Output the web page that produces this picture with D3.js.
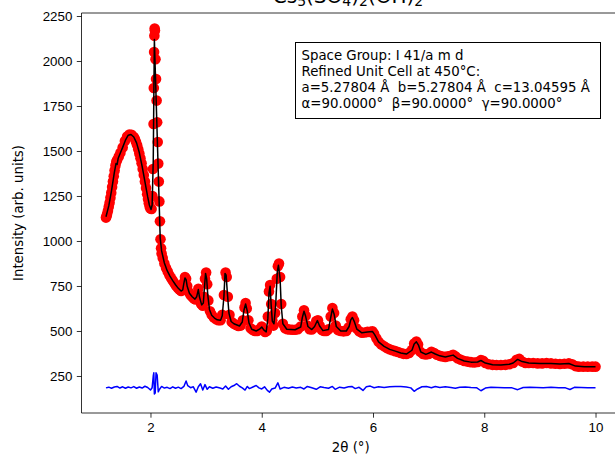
<!DOCTYPE html>
<html>
<head>
<meta charset="utf-8">
<script src="https://cdn.jsdelivr.net/npm/d3@7"></script>
<style>
  body { margin: 0; background: #fff; }
  svg { display: block; font-family: "DejaVu Sans", sans-serif; }
  .tick text { font-size: 13.33px; fill: #000; }
  .tick line { stroke: #000; stroke-width: 0.8; }
  .domain { stroke: none; }
</style>
</head>
<body>
<svg id="chart" width="615" height="459"></svg>
<script>
// observed pattern, [2theta, intensity]
var obsData = [
  [1.20,1130],[1.21,1138],[1.22,1150],[1.235,1168],[1.25,1190],[1.265,1213],[1.28,1240],[1.295,1268],
  [1.31,1300],[1.325,1330],[1.34,1360],[1.355,1392],[1.37,1420],[1.385,1440],[1.40,1450],
  [1.43,1470],[1.46,1490],[1.50,1520],[1.54,1555],[1.58,1580],[1.62,1592],[1.66,1590],[1.70,1578],
  [1.72,1566],[1.74,1550],[1.76,1532],[1.78,1510],[1.80,1486],[1.82,1460],[1.84,1432],[1.86,1400],
  [1.88,1366],[1.90,1330],[1.92,1295],[1.94,1260],[1.955,1234],[1.97,1210],[1.985,1192],[2.00,1180],
  [2.02,1178],[2.035,1250],[2.045,1400],[2.055,1650],[2.06,1850],[2.065,2050],[2.07,2140],[2.075,2180],
  [2.08,2170],[2.09,2010],[2.10,1900],[2.11,1780],[2.12,1660],[2.13,1550],[2.14,1430],[2.15,1330],
  [2.16,1220],[2.17,1110],[2.18,1010],[2.19,960],[2.20,930],
  [2.22,905],[2.25,875],[2.28,850],[2.31,830],[2.34,810],[2.37,795],[2.40,780],[2.43,765],[2.46,752],
  [2.49,740],[2.52,730],[2.55,722],[2.58,730],[2.60,770],[2.62,800],[2.64,790],[2.66,750],[2.69,715],
  [2.72,700],[2.75,690],[2.78,680],[2.81,675],[2.84,700],[2.86,735],[2.88,690],[2.91,650],[2.94,640],
  [2.96,690],[2.98,790],[3.00,825],[3.02,760],[3.04,670],[3.07,610],[3.10,590],[3.14,575],[3.18,565],
  [3.22,560],[3.26,560],[3.29,590],[3.32,700],[3.35,825],[3.37,800],[3.39,690],[3.42,590],[3.46,550],
  [3.50,540],[3.54,533],[3.58,528],[3.62,530],[3.66,560],[3.69,630],[3.71,655],[3.73,625],[3.76,560],
  [3.80,515],[3.84,505],[3.88,500],[3.92,500],[3.96,510],[4.00,525],[4.03,510],[4.06,495],[4.09,500],
  [4.11,580],[4.13,720],[4.15,755],[4.17,650],[4.19,560],[4.21,530],[4.24,600],[4.27,790],[4.29,860],
  [4.31,875],[4.33,800],[4.35,650],[4.38,540],[4.42,515],[4.46,510],[4.50,508],[4.55,507],[4.60,507],
  [4.65,510],[4.70,525],[4.73,580],[4.76,615],[4.79,585],[4.82,530],[4.86,510],[4.90,508],[4.94,520],
  [4.98,555],[5.01,560],[5.04,530],[5.08,505],[5.12,500],[5.16,500],[5.20,510],[5.24,580],[5.27,628],
  [5.30,600],[5.33,530],[5.37,505],[5.42,500],[5.47,498],[5.52,500],[5.56,520],[5.60,565],[5.63,580],
  [5.66,560],[5.70,515],[5.75,498],[5.80,490],[5.85,492],[5.90,495],[5.95,495],[5.99,498],[6.02,485],
  [6.06,460],[6.10,440],[6.15,425],[6.20,415],[6.25,405],[6.30,398],[6.35,393],[6.40,388],[6.45,383],
  [6.50,378],[6.55,373],[6.60,372],[6.65,378],[6.70,395],[6.74,430],[6.78,442],[6.81,425],[6.85,385],
  [6.90,372],[6.95,370],[7.00,372],[7.05,385],[7.10,378],[7.15,368],[7.20,362],[7.25,358],[7.30,356],
  [7.35,360],[7.40,362],[7.44,368],[7.48,360],[7.52,348],[7.58,340],[7.64,333],[7.70,330],[7.76,327],
  [7.82,325],[7.88,328],[7.94,338],[7.98,335],[8.02,322],[8.08,315],[8.15,312],[8.22,311],[8.30,311],
  [8.38,312],[8.45,315],[8.52,322],[8.58,340],[8.63,345],[8.68,330],[8.74,322],[8.80,322],[8.88,322],
  [8.96,320],[9.04,320],[9.12,322],[9.20,320],[9.28,318],[9.36,317],[9.44,318],[9.52,320],[9.58,315],
  [9.64,305],[9.70,302],[9.78,302],[9.86,302],[9.94,302],[10.00,302]
];

// calculated pattern
var calcData = [
  [1.20,1135],[1.25,1195],[1.30,1280],[1.35,1380],[1.38,1430],[1.40,1425],[1.42,1460],[1.46,1490],
  [1.50,1520],[1.55,1560],[1.60,1588],[1.65,1592],[1.70,1578],[1.75,1545],[1.80,1490],[1.85,1415],
  [1.90,1330],[1.95,1245],[1.98,1200],[2.01,1175],[2.03,1200],[2.05,1450],[2.06,1800],[2.07,2120],
  [2.175,1016],[2.20,945],[2.25,878],[2.30,835],[2.35,805],[2.40,780],[2.45,757],[2.50,737],[2.55,722],
  [2.58,728],[2.60,765],[2.62,795],[2.64,785],[2.66,748],[2.70,710],[2.75,690],[2.80,677],[2.83,690],
  [2.86,730],[2.88,690],[2.92,645],[2.95,655],[2.97,740],[2.99,820],[3.01,790],[3.03,700],[3.06,620],
  [3.10,588],[3.15,572],[3.20,562],[3.26,560],[3.29,585],[3.32,690],[3.34,820],[3.36,810],[3.38,720],
  [3.41,600],[3.45,553],[3.50,540],[3.60,528],[3.65,550],[3.68,615],[3.71,650],[3.74,610],[3.77,545],
  [3.82,510],[3.90,500],[3.96,510],[4.00,522],[4.04,505],[4.08,495],[4.11,570],[4.13,710],[4.15,748],
  [4.17,640],[4.19,555],[4.22,540],[4.25,640],[4.28,830],[4.30,865],[4.33,790],[4.35,640],[4.38,540],
  [4.45,510],[4.60,507],[4.70,522],[4.73,575],[4.76,610],[4.79,580],[4.83,525],[4.90,508],[4.95,525],
  [5.00,558],[5.04,528],[5.10,502],[5.20,508],[5.24,575],[5.27,622],[5.30,595],[5.34,525],[5.42,500],
  [5.52,500],[5.57,525],[5.60,562],[5.63,575],[5.66,555],[5.71,510],[5.80,490],[5.90,495],[5.99,497],
  [6.03,480],[6.10,440],[6.20,415],[6.30,398],[6.40,388],[6.50,378],[6.60,372],[6.70,393],[6.74,428],
  [6.78,440],[6.82,420],[6.86,383],[6.95,370],[7.05,383],[7.12,372],[7.20,362],[7.30,356],[7.44,366],
  [7.52,348],[7.64,333],[7.76,327],[7.88,328],[7.94,336],[8.02,322],[8.15,312],[8.30,311],[8.45,315],
  [8.52,322],[8.60,342],[8.68,330],[8.80,322],[9.00,320],[9.20,320],[9.36,317],[9.52,319],[9.64,305],
  [9.80,302],[10.00,302]
];

// difference curve (offset)
var diffData = [
  [1.20,184],[1.25,188],[1.30,182],[1.35,189],[1.40,192],[1.45,183],[1.50,190],[1.55,182],[1.60,189],
  [1.65,184],[1.70,191],[1.75,182],[1.80,189],[1.85,183],[1.90,193],[1.95,186],[2.00,172],[2.03,185],
  [2.05,250],[2.06,268],[2.07,150],[2.085,155],[2.10,268],[2.12,255],[2.14,162],[2.16,175],[2.20,192],
  [2.25,183],[2.30,187],[2.35,180],[2.40,190],[2.45,182],[2.50,188],[2.55,180],[2.60,192],[2.64,222],
  [2.67,196],[2.72,185],[2.77,190],[2.82,160],[2.86,190],[2.90,207],[2.94,172],[2.98,202],[3.02,176],
  [3.06,190],[3.12,182],[3.18,189],[3.25,183],[3.30,178],[3.35,194],[3.40,176],[3.45,190],[3.50,197],
  [3.55,207],[3.60,193],[3.65,184],[3.70,172],[3.74,192],[3.78,180],[3.85,190],[3.90,197],[3.95,184],
  [4.00,178],[4.05,190],[4.10,170],[4.14,160],[4.18,178],[4.24,183],[4.29,212],[4.33,178],[4.40,187],
  [4.48,182],[4.55,189],[4.62,183],[4.70,187],[4.76,178],[4.82,192],[4.90,185],[4.98,176],[5.05,190],
  [5.12,186],[5.20,182],[5.27,192],[5.32,176],[5.40,188],[5.48,183],[5.56,190],[5.62,192],[5.68,180],
  [5.75,187],[5.82,170],[5.88,190],[5.95,194],[6.02,185],[6.10,190],[6.20,186],[6.30,190],[6.40,191],
  [6.50,192],[6.60,189],[6.68,184],[6.74,165],[6.80,178],[6.88,190],[6.96,192],[7.05,185],[7.12,192],
  [7.20,186],[7.30,190],[7.40,186],[7.48,182],[7.56,187],[7.66,189],[7.76,186],[7.86,185],[7.94,168],
  [8.02,183],[8.12,187],[8.24,186],[8.36,185],[8.50,184],[8.60,174],[8.70,186],[8.82,187],[8.94,186],
  [9.06,184],[9.20,187],[9.34,185],[9.46,184],[9.54,175],[9.62,187],[9.74,186],[9.86,185],[10.00,184]
];

var xTicks = [2, 4, 6, 8, 10];
var yTicks = [250, 500, 750, 1000, 1250, 1500, 1750, 2000, 2250];

var infoLines = [
  "Space Group: I 41/a m d",
  "Refined Unit Cell at 450°C:",
  "a=5.27804 Å  b=5.27804 Å  c=13.04595 Å",
  "α=90.0000°  β=90.0000°  γ=90.0000°"
];

var svg = d3.select("#chart");
var axL = 81.5, axR = 620, axT = 13, axB = 413;

var x = d3.scaleLinear().domain([0.76, 10.44]).range([axL, axR]);
var y = d3.scaleLinear().domain([44.4, 2266.7]).range([axB, axT]);

svg.append("defs").append("clipPath").attr("id", "clip")
  .append("rect").attr("x", axL).attr("y", axT)
  .attr("width", axR - axL).attr("height", axB - axT);

var plot = svg.append("g").attr("clip-path", "url(#clip)");

// observed as fat red markers
plot.selectAll("circle.obs").data(obsData).enter().append("circle")
  .attr("class", "obs")
  .attr("cx", function(d){ return x(d[0]); })
  .attr("cy", function(d){ return y(d[1]); })
  .attr("r", 5.3)
  .attr("fill", "#ff0000");

var line = d3.line()
  .x(function(d){ return x(d[0]); })
  .y(function(d){ return y(d[1]); });

plot.append("path").datum(calcData)
  .attr("d", line)
  .attr("fill", "none").attr("stroke", "#000").attr("stroke-width", 1.5)
  .attr("stroke-linejoin", "round");

plot.append("path").datum(diffData)
  .attr("d", line)
  .attr("fill", "none").attr("stroke", "#0000ff").attr("stroke-width", 1.5)
  .attr("stroke-linejoin", "round");

// axes
svg.append("g").attr("transform", "translate(0," + axB + ")")
  .call(d3.axisBottom(x).tickValues(xTicks).tickFormat(d3.format("d"))
    .tickSize(4.7).tickPadding(4.5));
svg.append("g").attr("transform", "translate(" + axL + ",0)")
  .call(d3.axisLeft(y).tickValues(yTicks).tickFormat(d3.format("d"))
    .tickSize(4.7).tickPadding(4.5));

// spines
svg.append("path")
  .attr("d", "M" + axR + "," + axT + "H" + axL + "V" + axB + "H" + axR)
  .attr("fill", "none").attr("stroke", "#000").attr("stroke-width", 0.8);

// labels
svg.append("text").attr("x", (axL + axR) / 2).attr("y", 452)
  .attr("text-anchor", "middle").attr("font-size", "13.33px").text("2θ (°)");

svg.append("text")
  .attr("transform", "translate(23," + ((axT + axB) / 2) + ") rotate(-90)")
  .attr("text-anchor", "middle").attr("font-size", "13.33px")
  .text("Intensity (arb. units)");

// title, mostly cut off by the top edge
var titleParts = [["Cs", 0], ["5", 1], ["(SO", 0], ["4", 1], [")", 0], ["2", 1], ["(OH)", 0], ["2", 1]];
var title = svg.append("text").attr("x", 348).attr("y", 3)
  .attr("text-anchor", "middle").attr("font-size", "20px");
titleParts.forEach(function(p, i){
  var prevSub = i > 0 && titleParts[i - 1][1];
  title.append("tspan")
    .attr("font-size", p[1] ? "14px" : "20px")
    .attr("dy", p[1] && !prevSub ? 3 : (!p[1] && prevSub ? -3 : 0))
    .text(p[0]);
});

// info box
var box = svg.append("g");
box.append("rect").attr("x", 295.5).attr("y", 42.5).attr("width", 305).attr("height", 76)
  .attr("fill", "#fff").attr("stroke", "#000").attr("stroke-width", 1);
box.selectAll("text").data(infoLines).enter().append("text")
  .attr("x", 301.5)
  .attr("y", function(d, i){ return 60 + i * 16; })
  .attr("font-size", "13.33px")
  .style("white-space", "pre")
  .text(function(d){ return d; });
</script>
</body>
</html>
